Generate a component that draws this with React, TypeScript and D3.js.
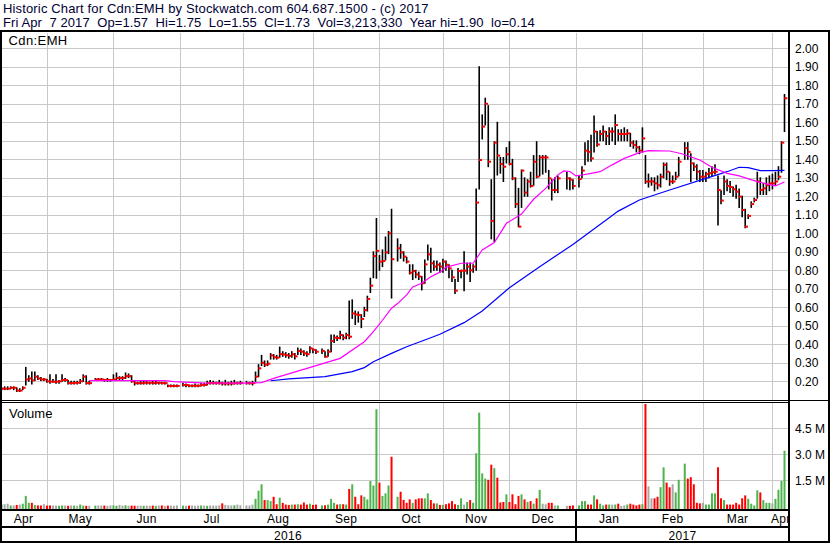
import React from "react";
import * as d3 from "d3";

// ---- Header texts ----
const TITLE = "Historic Chart for Cdn:EMH by Stockwatch.com 604.687.1500 - (c) 2017";
const SUBTITLE = "Fri Apr  7 2017  Op=1.57  Hi=1.75  Lo=1.55  Cl=1.73  Vol=3,213,330  Year hi=1.90  lo=0.14";
const SYMBOL = "Cdn:EMH";

// first trading weekday shown
const START_DATE = new Date(2016, 3, 11);

// ---- Daily bars (one per weekday, null = market holiday) ----
const closes: (number | null)[] = [
  /* Apr */ 0.16, 0.16, 0.16, 0.165, 0.165, 0.15, 0.15, 0.165, 0.21, 0.215, 0.205, 0.225, 0.215, 0.21, 0.21,
  /* May */ 0.2, 0.198, 0.198, 0.198, 0.2, 0.207, 0.207, 0.19, 0.19, 0.192, 0.192, 0.2, 0.225, 0.19, 0.19, null, 0.21, 0.21, 0.21, 0.207, 0.207, 0.207,
  /* Jun */ 0.21, 0.218, 0.218, 0.218, 0.228, 0.228, 0.2, 0.19, 0.19, 0.19, 0.192, 0.192, 0.192, 0.19, 0.192, 0.192, 0.19, 0.19, 0.175, 0.175, 0.175, 0.175,
  /* Jul */ null, 0.18, 0.18, 0.176, 0.176, 0.176, 0.176, 0.18, 0.18, 0.19, 0.19, 0.19, 0.19, 0.19, 0.188, 0.188, 0.188, 0.188, 0.19, 0.19, 0.19,
  /* Aug */ null, 0.19, 0.19, 0.19, 0.225, 0.27, 0.3, 0.29, 0.295, 0.34, 0.33, 0.328, 0.347, 0.345, 0.341, 0.337, 0.346, 0.335, 0.364, 0.36, 0.351, 0.347, 0.378,
  /* Sep */ 0.37, 0.36, null, 0.364, 0.333, 0.36, 0.418, 0.436, 0.434, 0.45, 0.436, 0.45, 0.441, 0.567, 0.561, 0.558, 0.537, 0.585, 0.645, 0.717, 0.877, 0.905,
  /* Oct */ 0.847, 0.85, 0.897, 1.0, 0.86, null, 0.919, 0.897, 0.874, 0.847, 0.787, 0.796, 0.778, 0.766, 0.73, 0.832, 0.886, 0.838, 0.82, 0.83, 0.82,
  /* Nov */ 0.847, 0.83, 0.81, 0.762, 0.69, 0.796, 0.798, 0.798, 0.82, 0.8, 0.82, 1.166, 1.396, 1.577, 1.7, 1.387, 1.067, 1.49, 1.42, 1.375, 1.36, 1.427,
  /* Dec */ 1.375, 1.297, 1.158, 1.036, 1.339, 1.22, 1.28, 1.256, 1.387, 1.306, 1.41, 1.41, 1.41, 1.297, 1.234, 1.234, 1.297, null, null, 1.297, 1.29, 1.256,
  /* Jan */ null, 1.293, 1.339, 1.447, 1.44, 1.405, 1.55, 1.48, 1.537, 1.55, 1.526, 1.55, 1.55, 1.585, 1.537, 1.537, 1.537, 1.54, 1.49, 1.477, 1.465, 1.447,
  /* Feb */ 1.513, 1.28, 1.28, 1.28, 1.27, 1.26, 1.306, 1.37, 1.333, 1.28, 1.28, 1.306, 1.387, null, 1.46, 1.44, 1.378, 1.36, 1.333, 1.306,
  /* Mar */ 1.306, 1.32, 1.325, 1.33, 1.333, 1.234, 1.177, 1.28, 1.256, 1.25, 1.238, 1.225, 1.198, 1.126, 1.036, 1.094, 1.158, 1.18, 1.28, 1.234, 1.243, 1.26, 1.27,
  /* Apr */ 1.27, 1.28, 1.306, 1.49, 1.73,
];

const highs: (number | null)[] = [
  /* Apr */ 0.165, 0.17, 0.17, 0.17, 0.17, 0.165, 0.16, 0.17, 0.275, 0.23, 0.25, 0.25, 0.23, 0.22, 0.215,
  /* May */ 0.21, 0.235, 0.21, 0.235, 0.205, 0.235, 0.215, 0.205, 0.2, 0.2, 0.2, 0.21, 0.235, 0.23, 0.2, null, 0.215, 0.215, 0.215, 0.21, 0.215, 0.21,
  /* Jun */ 0.235, 0.245, 0.225, 0.225, 0.245, 0.24, 0.23, 0.2, 0.195, 0.2, 0.2, 0.2, 0.195, 0.2, 0.2, 0.195, 0.195, 0.195, 0.18, 0.18, 0.18, 0.18,
  /* Jul */ null, 0.19, 0.185, 0.18, 0.18, 0.185, 0.18, 0.19, 0.19, 0.2, 0.205, 0.2, 0.195, 0.205, 0.195, 0.205, 0.195, 0.2, 0.205, 0.195, 0.2,
  /* Aug */ null, 0.2, 0.195, 0.2, 0.25, 0.29, 0.34, 0.31, 0.31, 0.35, 0.345, 0.34, 0.385, 0.36, 0.355, 0.35, 0.36, 0.35, 0.38, 0.375, 0.365, 0.36, 0.387,
  /* Sep */ 0.375, 0.37, null, 0.375, 0.36, 0.37, 0.45, 0.45, 0.445, 0.47, 0.45, 0.46, 0.634, 0.64, 0.58, 0.575, 0.56, 0.6, 0.66, 0.757, 0.9, 1.08,
  /* Oct */ 0.88, 0.91, 0.98, 1.01, 1.13, null, 0.97, 0.94, 0.9, 0.87, 0.83, 0.83, 0.8, 0.79, 0.766, 0.856, 0.937, 0.919, 0.85, 0.85, 0.84,
  /* Nov */ 0.86, 0.85, 0.83, 0.8, 0.75, 0.81, 0.8, 0.9, 0.84, 0.84, 0.83, 1.24, 1.9, 1.64, 1.73, 1.69, 1.29, 1.495, 1.6, 1.41, 1.41, 1.463,
  /* Dec */ 1.495, 1.4, 1.3, 1.243, 1.342, 1.3, 1.29, 1.33, 1.42, 1.495, 1.42, 1.42, 1.42, 1.34, 1.29, 1.3, 1.31, null, null, 1.33, 1.3, 1.29,
  /* Jan */ null, 1.31, 1.36, 1.49, 1.5, 1.53, 1.634, 1.55, 1.555, 1.58, 1.55, 1.57, 1.57, 1.64, 1.56, 1.56, 1.57, 1.56, 1.54, 1.5, 1.5, 1.47,
  /* Feb */ 1.57, 1.42, 1.32, 1.3, 1.3, 1.31, 1.32, 1.38, 1.38, 1.33, 1.31, 1.33, 1.41, null, 1.49, 1.49, 1.43, 1.38, 1.37, 1.34,
  /* Mar */ 1.34, 1.33, 1.35, 1.36, 1.37, 1.31, 1.23, 1.31, 1.29, 1.28, 1.25, 1.26, 1.24, 1.2, 1.13, 1.1, 1.17, 1.19, 1.33, 1.3, 1.27, 1.3, 1.31,
  /* Apr */ 1.32, 1.33, 1.36, 1.495, 1.75,
];

const lows: (number | null)[] = [
  /* Apr */ 0.155, 0.155, 0.155, 0.16, 0.155, 0.145, 0.145, 0.155, 0.18, 0.2, 0.185, 0.205, 0.21, 0.205, 0.205,
  /* May */ 0.195, 0.19, 0.195, 0.19, 0.19, 0.2, 0.2, 0.185, 0.185, 0.185, 0.185, 0.19, 0.2, 0.185, 0.185, null, 0.205, 0.205, 0.205, 0.2, 0.2, 0.2,
  /* Jun */ 0.205, 0.21, 0.21, 0.21, 0.215, 0.22, 0.195, 0.18, 0.185, 0.185, 0.185, 0.185, 0.185, 0.185, 0.185, 0.185, 0.185, 0.185, 0.17, 0.17, 0.17, 0.17,
  /* Jul */ null, 0.175, 0.17, 0.17, 0.17, 0.17, 0.17, 0.175, 0.175, 0.18, 0.185, 0.185, 0.185, 0.185, 0.18, 0.18, 0.18, 0.18, 0.185, 0.185, 0.185,
  /* Aug */ null, 0.185, 0.185, 0.18, 0.2, 0.225, 0.285, 0.28, 0.285, 0.32, 0.32, 0.32, 0.33, 0.335, 0.33, 0.325, 0.33, 0.32, 0.345, 0.345, 0.34, 0.335, 0.355,
  /* Sep */ 0.355, 0.35, null, 0.35, 0.33, 0.335, 0.36, 0.41, 0.42, 0.43, 0.425, 0.43, 0.43, 0.54, 0.507, 0.52, 0.49, 0.55, 0.58, 0.68, 0.76, 0.757,
  /* Oct */ 0.8, 0.82, 0.856, 0.89, 0.65, null, 0.85, 0.865, 0.85, 0.84, 0.78, 0.75, 0.76, 0.75, 0.694, 0.73, 0.856, 0.79, 0.8, 0.8, 0.79,
  /* Nov */ 0.79, 0.8, 0.76, 0.74, 0.674, 0.74, 0.76, 0.69, 0.78, 0.74, 0.79, 0.8, 1.24, 1.51, 1.585, 1.36, 0.97, 0.955, 1.315, 1.325, 1.28, 1.38,
  /* Dec */ 1.37, 1.29, 1.14, 1.036, 1.14, 1.2, 1.2, 1.25, 1.26, 1.3, 1.31, 1.32, 1.33, 1.24, 1.18, 1.22, 1.22, null, null, 1.24, 1.235, 1.24,
  /* Jan */ null, 1.25, 1.3, 1.37, 1.39, 1.39, 1.44, 1.47, 1.5, 1.5, 1.48, 1.48, 1.5, 1.48, 1.5, 1.5, 1.5, 1.5, 1.47, 1.46, 1.44, 1.43,
  /* Feb */ 1.44, 1.27, 1.25, 1.26, 1.23, 1.24, 1.25, 1.3, 1.29, 1.26, 1.27, 1.29, 1.31, null, 1.4, 1.4, 1.28, 1.34, 1.29, 1.28,
  /* Mar */ 1.28, 1.28, 1.3, 1.31, 1.32, 1.045, 1.16, 1.21, 1.23, 1.22, 1.2, 1.19, 1.14, 1.09, 1.03, 1.08, 1.14, 1.17, 1.19, 1.21, 1.21, 1.21, 1.23,
  /* Apr */ 1.24, 1.26, 1.29, 1.33, 1.55,
];

// volume in millions of shares
const volumes: (number | null)[] = [
  /* Apr */ 0.1, 0.12, 0.15, 0.05, 0.05, 0.08, 0.1, 0.15, 0.6, 0.2, 0.2, 0.08, 0.05, 0.05, 0.12,
  /* May */ 0.04, 0.05, 0.05, 0.04, 0.03, 0.05, 0.04, 0.03, 0.05, 0.04, 0.03, 0.1, 0.04, 0.03, 0.03, null, 0.04, 0.05, 0.05, 0.04, 0.03, 0.05,
  /* Jun */ 0.05, 0.03, 0.08, 0.04, 0.06, 0.03, 0.04, 0.03, 0.03, 0.04, 0.03, 0.04, 0.03, 0.04, 0.03, 0.04, 0.05, 0.03, 0.04, 0.04, 0.03, 0.05,
  /* Jul */ null, 0.04, 0.03, 0.04, 0.05, 0.03, 0.04, 0.05, 0.04, 0.03, 0.05, 0.04, 0.04, 0.05, 0.17, 0.08, 0.06, 0.05, 0.06, 0.1, 0.06,
  /* Aug */ null, 0.05, 0.04, 0.1, 0.43, 0.9, 1.27, 0.36, 0.36, 0.3, 0.55, 0.12, 0.5, 0.2, 0.1, 0.08, 0.1, 0.1, 0.12, 0.1, 0.22, 0.1, 0.15,
  /* Sep */ 0.08, 0.1, null, 0.05, 0.06, 0.1, 0.43, 0.2, 0.1, 0.12, 0.12, 0.1, 1.0, 1.27, 0.55, 0.12, 0.63, 0.55, 0.4, 1.46, 1.2, 5.6,
  /* Oct */ 1.36, 0.6, 0.75, 1.2, 2.86, null, 0.55, 0.84, 0.37, 0.2, 0.4, 0.2, 0.4, 0.46, 0.46, 0.46, 0.75, 0.36, 0.17, 0.17, 0.08,
  /* Nov */ 0.08, 0.12, 0.17, 0.3, 0.12, 0.08, 0.46, 0.1, 0.25, 0.36, 0.2, 3.06, 5.4, 1.9, 1.6, 1.53, 2.4, 2.2, 1.65, 0.22, 0.25, 0.69,
  /* Dec */ 0.25, 0.69, 0.12, 0.6, 0.69, 0.4, 0.25, 0.3, 0.15, 0.46, 0.95, 0.15, 0.12, 0.2, 0.2, 0.05, 0.05, null, null, 0.03, 0.03, 0.05,
  /* Jan */ null, 0.05, 0.3, 0.3, 0.1, 0.1, 0.63, 0.4, 0.15, 0.05, 0.1, 0.1, 0.1, 0.1, 0.15, 0.02, 0.05, 0.1, 0.15, 0.1, 0.05, 0.1,
  /* Feb */ 0.12, 5.9, 1.15, 0.46, 0.46, 0.55, 1.1, 2.25, 1.37, 1.1, 1.27, 0.8, 1.53, null, 2.46, 1.6, 1.68, 1.27, 0.2, 0.17,
  /* Mar */ 0.2, 0.1, 0.1, 0.75, 0.75, 2.25, 0.46, 0.36, 0.1, 0.1, 0.1, 0.2, 0.1, 0.46, 0.63, 0.43, 0.15, 0.05, 0.92, 0.8, 0.36, 0.2, 0.2,
  /* Apr */ 0.17, 0.43, 0.95, 1.46, 3.21,
];

// moving averages: [bar index, price]
const maMagenta: [number, number][] = [
  [29, 0.204], [40, 0.204], [54, 0.204], [57, 0.198], [66, 0.192], [80, 0.19], [86, 0.193], [90, 0.216],
  [101, 0.27], [112, 0.324], [120, 0.414], [123, 0.468], [126, 0.53], [129, 0.595], [131, 0.62], [134, 0.667],
  [136, 0.71], [139, 0.73], [142, 0.765], [145, 0.79], [147, 0.816], [152, 0.838], [156, 0.838], [159, 0.91],
  [163, 0.95], [167, 1.054], [172, 1.104], [176, 1.184], [180, 1.243], [184, 1.316], [186, 1.337], [188, 1.334],
  [190, 1.31], [192, 1.315], [195, 1.324], [198, 1.333], [202, 1.37], [206, 1.405], [211, 1.436], [214, 1.447],
  [221, 1.445], [225, 1.43], [231, 1.396], [235, 1.357], [240, 1.324], [244, 1.31], [250, 1.279], [256, 1.256],
  [259, 1.277],
];
const maBlue: [number, number][] = [
  [89, 0.203], [95, 0.213], [107, 0.225], [116, 0.252], [120, 0.274], [123, 0.306], [129, 0.351], [134, 0.387],
  [140, 0.423], [145, 0.454], [153, 0.517], [159, 0.58], [168, 0.706], [178, 0.819], [189, 0.94], [200, 1.072],
  [204, 1.12], [211, 1.18], [221, 1.234], [233, 1.297], [240, 1.333], [244, 1.357], [247, 1.355], [251, 1.339],
  [255, 1.339], [259, 1.34],
];

const priceTicks = [0.2, 0.3, 0.4, 0.5, 0.6, 0.7, 0.8, 0.9, 1.0, 1.1, 1.2, 1.3, 1.4, 1.5, 1.6, 1.7, 1.8, 1.9, 2.0];
const volumeTicks = [1.5, 3.0, 4.5];

const FONT = "'Liberation Sans', Arial, Helvetica, sans-serif";
const W = 830;
const H = 543;
const AXIS_X = 789;
const PRICE_TOP = 33;
const PRICE_BOTTOM = 400;
const VOL_TOP = 402;
const VOL_BOTTOM = 509;

function weekdayDates(n: number): Date[] {
  const out: Date[] = [];
  const d = new Date(START_DATE);
  while (out.length < n) {
    const wd = d.getDay();
    if (wd !== 0 && wd !== 6) out.push(new Date(d));
    d.setDate(d.getDate() + 1);
  }
  return out;
}

export default function App() {
  const n = closes.length;
  const dates = weekdayDates(n);

  const x = d3.scaleLinear().domain([0, n - 1]).range([1.6, 784.5]);
  const yP = d3.scaleLinear().domain([0.2, 2.0]).range([381.3, 48.3]);
  const yV = d3.scaleLinear().domain([0, 4.5]).range([506.3, 428.3]);

  const monthStarts: number[] = [];
  for (let i = 1; i < n; i++) {
    if (dates[i].getMonth() !== dates[i - 1].getMonth()) monthStarts.push(i);
  }
  const gridXs = monthStarts.map((i) => x(i));
  const fmtMonth = d3.timeFormat("%b");
  const bounds = [0, ...gridXs, AXIS_X];
  const monthLabels = bounds.slice(0, -1).map((b, k) => ({
    x: (b + bounds[k + 1]) / 2,
    label: fmtMonth(k === 0 ? dates[0] : dates[monthStarts[k - 1]]),
  }));
  const yearStartIdx = monthStarts.find((i) => dates[i].getFullYear() !== dates[0].getFullYear())!;
  const yearX = x(yearStartIdx);
  const years = [
    { x: yearX / 2, label: String(dates[0].getFullYear()) },
    { x: (yearX + AXIS_X) / 2, label: String(dates[n - 1].getFullYear()) },
  ];

  const line = d3
    .line<[number, number]>()
    .x((d) => x(d[0]))
    .y((d) => yP(d[1]));

  const fmtP = d3.format(".2f");
  const fmtV = d3.format(".1f");

  const bars = d3.range(n).filter((i) => closes[i] != null);

  const volColor = (i: number) => {
    let p = i - 1;
    while (p >= 0 && closes[p] == null) p--;
    if (p < 0) return "#4db34d";
    const c = closes[i] as number;
    const pc = closes[p] as number;
    if (c > pc) return "#4db34d";
    if (c < pc) return "#ff0000";
    return "#a8a8a8";
  };

  return (
    <svg
      width={W}
      height={H}
      viewBox={`0 0 ${W} ${H}`}
      style={{ position: "absolute", left: 0, top: 0, background: "#fff", fontFamily: FONT }}
    >
      <defs>
        <clipPath id="pc">
          <rect x={2} y={PRICE_TOP} width={AXIS_X - 3} height={PRICE_BOTTOM - PRICE_TOP} />
        </clipPath>
        <clipPath id="vc">
          <rect x={2} y={VOL_TOP} width={AXIS_X - 3} height={VOL_BOTTOM - VOL_TOP} />
        </clipPath>
        <clipPath id="ac">
          <rect x={2} y={510} width={AXIS_X - 3} height={32} />
        </clipPath>
      </defs>
      <rect x={0} y={0} width={W} height={H} fill="#fff" />

      {/* header */}
      <text x={3} y={12.5} fontSize={13} letterSpacing={0.15} fill="#000033">{TITLE}</text>
      <text x={3} y={26.5} fontSize={13} letterSpacing={0.1} fill="#000033" style={{ whiteSpace: "pre" }}>{SUBTITLE}</text>

      {/* grid */}
      <g shapeRendering="crispEdges" stroke="#c8c8c8" strokeWidth={1}>
        {priceTicks.map((t) => (
          <line key={"h" + t} x1={2} x2={AXIS_X} y1={Math.round(yP(t)) + 0.5} y2={Math.round(yP(t)) + 0.5} />
        ))}
        {volumeTicks.map((t) => (
          <line key={"v" + t} x1={2} x2={AXIS_X} y1={Math.round(yV(t)) + 0.5} y2={Math.round(yV(t)) + 0.5} />
        ))}
        {gridXs.map((gx, k) => (
          <g key={"g" + k}>
            <line x1={Math.round(gx) + 0.5} x2={Math.round(gx) + 0.5} y1={PRICE_TOP} y2={PRICE_BOTTOM} />
            <line x1={Math.round(gx) + 0.5} x2={Math.round(gx) + 0.5} y1={VOL_TOP} y2={VOL_BOTTOM} />
          </g>
        ))}
      </g>

      <text x={8.5} y={45} fontSize={13} letterSpacing={0.4} fill="#000">{SYMBOL}</text>
      <text x={9} y={418} fontSize={13} fill="#000">Volume</text>

      {/* price bars */}
      <g clipPath="url(#pc)">
        {bars.map((i) => {
          const bx = x(i);
          const hi = yP(highs[i] as number);
          const lo = yP(lows[i] as number);
          return (
            <line
              key={"b" + i}
              x1={bx}
              x2={bx}
              y1={hi - 0.5}
              y2={Math.max(lo, hi + 1) + 0.5}
              stroke="#000"
              strokeWidth={1.6}
            />
          );
        })}
        {bars.map((i) => (
          <rect
            key={"c" + i}
            x={x(i) - 0.2}
            y={yP(closes[i] as number) - 1}
            width={3}
            height={2}
            fill="#ff0000"
          />
        ))}
        <path d={line(maBlue) || ""} fill="none" stroke="#0000ff" strokeWidth={1.2} />
        <path d={line(maMagenta) || ""} fill="none" stroke="#ff00ff" strokeWidth={1.2} />
      </g>

      {/* volume bars */}
      <g clipPath="url(#vc)">
        {bars
          .filter((i) => volumes[i] != null)
          .map((i) => (
            <rect
              key={"v" + i}
              x={x(i) - 1}
              y={yV(volumes[i] as number)}
              width={2}
              height={VOL_BOTTOM - yV(volumes[i] as number)}
              fill={volColor(i)}
            />
          ))}
      </g>

      {/* right axis labels */}
      {priceTicks.map((t) => (
        <text key={"pl" + t} x={795} y={yP(t) + 4.3} fontSize={12} fill="#000">
          {fmtP(t)}
        </text>
      ))}
      {volumeTicks.map((t) => (
        <text key={"vl" + t} x={795} y={yV(t) + 4.3} fontSize={12} fill="#000">
          {fmtV(t) + " M"}
        </text>
      ))}

      {/* month + year labels */}
      <g clipPath="url(#ac)">
        {monthLabels.map((m, k) => (
          <text key={"m" + k} x={m.x} y={523} fontSize={12} letterSpacing={0.3} textAnchor="middle" fill="#000">
            {m.label}
          </text>
        ))}
        {years.map((yv) => (
          <text key={yv.label} x={yv.x} y={539.5} fontSize={12} letterSpacing={0.3} textAnchor="middle" fill="#000">
            {yv.label}
          </text>
        ))}
      </g>

      {/* frame lines */}
      <g fill="#000" shapeRendering="crispEdges">
        <rect x={0} y={30} width={W} height={2} />
        <rect x={0} y={30} width={2} height={H - 30} />
        <rect x={W - 2} y={30} width={2} height={H - 30} />
        <rect x={0} y={H - 2} width={W} height={2} />
        <rect x={AXIS_X - 1} y={30} width={2} height={H - 30} />
        <rect x={0} y={400} width={W} height={1} />
        <rect x={0} y={402} width={AXIS_X} height={1} />
        <rect x={0} y={VOL_BOTTOM} width={AXIS_X} height={2} />
        <rect x={0} y={526} width={AXIS_X} height={2} />
        <rect x={Math.round(yearX) - 1} y={VOL_BOTTOM} width={2} height={H - VOL_BOTTOM} />
      </g>
    </svg>
  );
}
